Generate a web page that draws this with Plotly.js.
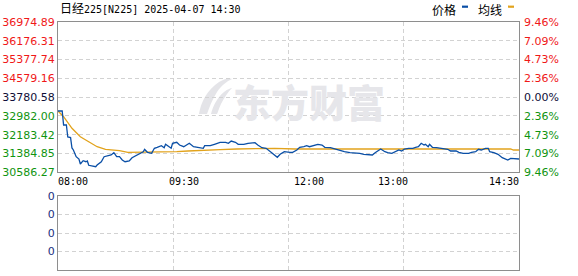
<!DOCTYPE html>
<html>
<head>
<meta charset="utf-8">
<script src="https://cdn.plot.ly/plotly-3.0.1.min.js"></script>
<style>html,body{margin:0;padding:0;background:#fff;}#chart{width:578px;height:276px;}</style>
</head>
<body>
<div id="chart"></div>
<script>
// ---- data ----
const chartTitle = '日经225[N225] 2025-04-07 14:30';
const prevClose = 33780.58;
// minutes since session open (08:00), two sessions joined: 08:00-10:30, 11:30-14:30
const priceMinutes = [0,3,4,6,7,9,10,11,13,15,16,18,20,21,22,25,27,28,31,33,36,38,40,42,44,46,48,51,53,56,58,61,62,64,67,69,71,74,76,77,81,82,85,87,90,92,94,97,102,104,105,109,112,116,120,122,124,127,129,133,136,141,143,146,149,152,154,157,159,162,166,168,171,173,176,178,180,183,186,189,191,195,198,202,205,209,213,216,219,222,225,227,229,231,234,236,239,241,244,246,248,251,254,256,258,260,262,263,265,266,268,271,273,276,279,281,285,287,290,294,296,299,301,303,306,308,309,312,315,318,320,322,324,328,330];
const priceValues = [33191,33191,32596,32596,32086,32061,31619,31534,31249,31151,30939,31079,31036,31066,30883,30866,30824,30896,31036,31249,31291,31321,31419,31249,31249,31109,31036,31066,31206,31291,31351,31461,31563,31436,31393,31606,31648,31716,31631,31776,31606,31818,31861,31746,31674,31746,31818,31674,31648,31606,31716,31716,31776,31861,31861,31818,31916,31861,31776,31776,31818,31844,31746,31631,31606,31461,31351,31223,31351,31461,31436,31436,31534,31648,31674,31716,31674,31716,31776,31746,31648,31631,31576,31491,31461,31419,31419,31393,31351,31321,31321,31419,31491,31576,31461,31419,31393,31461,31534,31491,31576,31606,31606,31648,31674,31818,31746,31776,31674,31776,31648,31631,31606,31576,31563,31491,31491,31436,31393,31393,31436,31461,31563,31534,31606,31606,31461,31419,31351,31206,31151,31109,31180,31180,31151];
const avgMinutes = [0,4,10,16,22,28,34,44,50,78,85,93,105,116,128,140,155,170,200,260,300,324,326,330];
const avgValues = [33191,32949,32456,32099,31886,31674,31563,31504,31436,31436,31461,31491,31534,31550,31576,31600,31606,31576,31576,31576,31570,31576,31534,31534];
const volMinutes = [0,330];
const volValues = [0,0];

const priceTicks = [30586.27,31384.85,32183.42,32982.00,33780.58,34579.16,35377.74,36176.31,36974.89];
const priceTickText = ['30586.27','31384.85','32183.42','32982.00','33780.58','34579.16','35377.74','36176.31','36974.89'];
const pctTickText = ['9.46%','7.09%','4.73%','2.36%','0.00%','2.36%','4.73%','7.09%','9.46%'];
const timeTickVals = [0,90,180,240,330];
const timeTickText = ['08:00','09:30','12:00','13:00','14:30'];
const gridMinutes = [82.5,165,247.5];
const volTicks = [0,1,2,3,4];
const volTickText = ['0','0','0','0','0'];
const legendNames = ['价格','均线'];
const watermark = '东方财富';

// ---- styling ----
const RED = '#f01818', GREEN = '#109410', DARK = '#101038';
const BLUE = '#0a4fa6', GOLD = '#e2a31c';
const GRID = '#d2d2d2', FRAME = '#8e8e8e';
function colorFor(v){ return v > prevClose + 0.01 ? RED : (v < prevClose - 0.01 ? GREEN : DARK); }
const leftText = priceTicks.map((v,i)=>'<span style="color:'+colorFor(v)+'">'+priceTickText[i]+'</span>');
const rightText = priceTicks.map((v,i)=>'<span style="color:'+colorFor(v)+'">'+pctTickText[i]+'</span>');

const yRange = [priceTicks[0], priceTicks[priceTicks.length-1]];
const xRange = [0, 330];
const tickFont = {family:'DejaVu Sans, Verdana, sans-serif', size:11, color:DARK};

const traces = [
  {x:avgMinutes, y:avgValues, type:'scatter', mode:'lines', line:{color:GOLD, width:1.3}, xaxis:'x', yaxis:'y', hoverinfo:'skip'},
  {x:priceMinutes, y:priceValues, type:'scatter', mode:'lines', line:{color:BLUE, width:1.3}, xaxis:'x', yaxis:'y2', hoverinfo:'skip'},
  {x:volMinutes, y:volValues, type:'scatter', mode:'none', xaxis:'x2', yaxis:'y3', hoverinfo:'skip'}
];

const mainDomain = [0.394, 1];
const volDomain = [0, 0.298];
const PW = 461, PH = 248, L = 58, B = 270;
const px = x => (x - L) / PW;
const py = y => (B - y) / PH;

const annotations = [
  {text:'<span style="font-size:12px">日经</span>' + chartTitle.slice(2), xref:'paper', yref:'paper', x:px(58), y:py(9), xanchor:'left', yanchor:'middle', showarrow:false,
   font:{family:'DejaVu Sans Mono, Noto Sans CJK SC', size:10, color:'#000'}},
  {text:legendNames[0], xref:'paper', yref:'paper', x:px(430), y:py(9.5), xanchor:'left', yanchor:'middle', showarrow:false, font:{family:'Noto Sans CJK SC', size:12, color:'#000'}},
  {text:legendNames[1], xref:'paper', yref:'paper', x:px(476), y:py(9.5), xanchor:'left', yanchor:'middle', showarrow:false, font:{family:'Noto Sans CJK SC', size:12, color:'#000'}},
  {text:watermark, xref:'paper', yref:'paper', x:px(309), y:py(100), xanchor:'center', yanchor:'middle', showarrow:false,
   font:{family:'Noto Sans CJK SC', size:38, color:'#e6e6ea', weight:900}}
];
timeTickVals.forEach((t,i)=>{
  annotations.push({text:timeTickText[i], xref:'x', yref:'paper', x:t, y:py(181.5),
    xanchor: i===0 ? 'left' : (i===timeTickVals.length-1 ? 'right' : 'center'), yanchor:'middle', showarrow:false,
    xshift: i===0 ? -2 : (i===timeTickVals.length-1 ? 2 : 0),
    font:{family:'DejaVu Sans Mono, monospace', size:10, color:'#000'}});
});

const shapes = [
  {type:'rect', xref:'paper', yref:'paper', x0:px(462), x1:px(468), y0:py(7.8), y1:py(5.6), fillcolor:BLUE, line:{width:0}},
  {type:'rect', xref:'paper', yref:'paper', x0:px(508), x1:px(514), y0:py(7.8), y1:py(5.6), fillcolor:GOLD, line:{width:0}}
];

const logoSvg = '<svg xmlns="http://www.w3.org/2000/svg" viewBox="0 0 36 38"><g fill="#e4e4e8">' +
  '<path d="M2 36 C4 24 10 12 22 4 C28 0 34 0 35 1 C30 3 24 8 20 14 C15 22 12 30 10 36 Z"/>' +
  '<path d="M14 36 C16 28 20 20 27 14 C31 11 34 10 35 10 C31 14 27 20 24 26 C22 30 21 34 20 36 Z"/>' +
  '</g></svg>';
const images = [{source:'data:image/svg+xml;base64,' + btoa(logoSvg), xref:'paper', yref:'paper',
  x:px(197), y:py(78), sizex:36/PW, sizey:38/PH, xanchor:'left', yanchor:'top', sizing:'stretch', layer:'below'}];

const layout = {
  width:578, height:276,
  margin:{l:58, r:59, t:22, b:6, pad:0},
  paper_bgcolor:'#ffffff', plot_bgcolor:'rgba(0,0,0,0)',
  showlegend:false,
  xaxis:{domain:[0,1], range:xRange, anchor:'y', tickmode:'array', tickvals:gridMinutes, showticklabels:false, ticks:'',
    showgrid:true, gridcolor:GRID, griddash:'4px,3px', gridwidth:1, zeroline:false,
    showline:true, mirror:true, linecolor:FRAME, linewidth:1, fixedrange:true},
  yaxis:{domain:mainDomain, range:yRange, anchor:'x', tickmode:'array', tickvals:priceTicks, ticktext:leftText, ticks:'',
    tickfont:tickFont, showgrid:true, gridcolor:GRID, griddash:'4px,3px', gridwidth:1, zeroline:false,
    showline:true, mirror:true, linecolor:FRAME, linewidth:1, ticklabelstandoff:0},
  yaxis2:{overlaying:'y', side:'right', range:yRange, anchor:'x', tickmode:'array', tickvals:priceTicks, ticktext:rightText, ticks:'',
    tickfont:tickFont, showgrid:false, zeroline:false, showline:false, ticklabelstandoff:4},
  xaxis2:{domain:[0,1], range:xRange, anchor:'y3', tickmode:'array', tickvals:gridMinutes, showticklabels:false, ticks:'',
    showgrid:true, gridcolor:GRID, griddash:'4px,3px', gridwidth:1, zeroline:false,
    showline:true, mirror:true, linecolor:FRAME, linewidth:1},
  yaxis3:{domain:volDomain, range:[0,4], anchor:'x2', tickmode:'array', tickvals:volTicks, ticktext:volTickText, ticks:'',
    tickfont:{family:'DejaVu Sans, Verdana, sans-serif', size:11, color:'#1a2f80'},
    showgrid:true, gridcolor:GRID, griddash:'4px,3px', gridwidth:1, zeroline:false,
    showline:true, mirror:true, linecolor:FRAME, linewidth:1, ticklabelstandoff:0},
  annotations:annotations, shapes:shapes, images:images
};

Plotly.newPlot('chart', traces, layout, {staticPlot:true, displayModeBar:false});
</script>
</body>
</html>
